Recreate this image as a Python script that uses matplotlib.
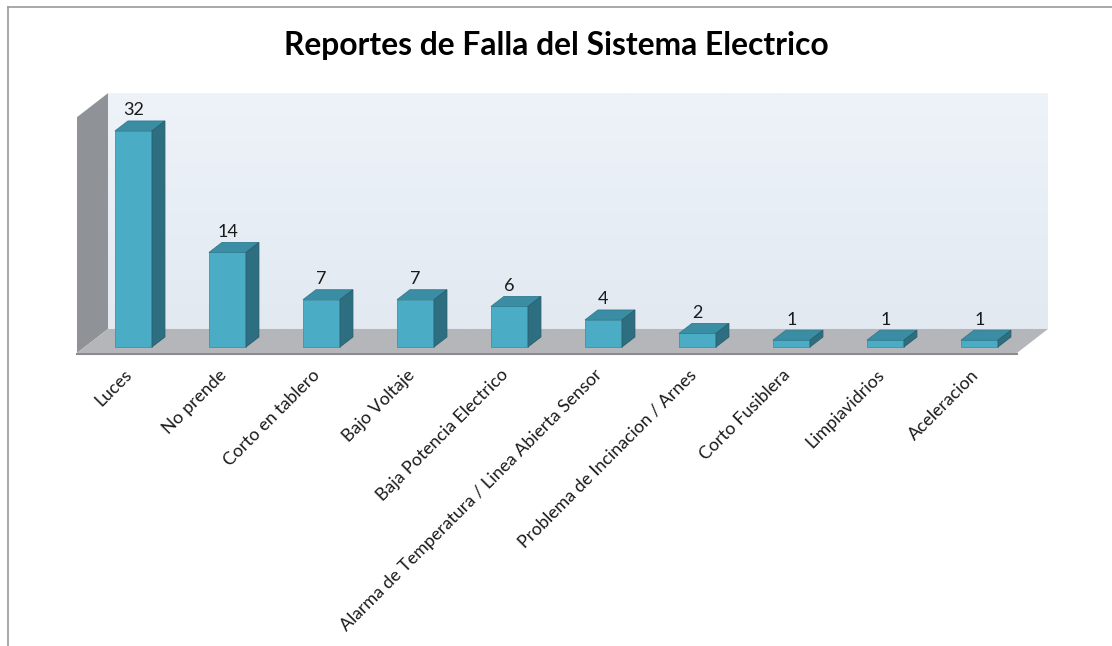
import matplotlib.pyplot as plt
import numpy as np
from matplotlib.patches import Polygon
from matplotlib.lines import Line2D

# data
categorias = ["Luces", "No prende", "Corto en tablero", "Bajo Voltaje",
              "Baja Potencia Electrico", "Alarma de Temperatura / Linea Abierta Sensor",
              "Problema de Incinacion / Arnes", "Corto Fusiblera", "Limpiavidrios",
              "Aceleracion"]
reportes = [32, 14, 7, 7, 6, 4, 2, 1, 1, 1]
titulo = "Reportes de Falla del Sistema Electrico"

plt.rcParams['font.family'] = ['Lato', 'DejaVu Sans']

fig = plt.figure(figsize=(11.12, 6.46), dpi=100)
ax = fig.add_axes([0, 0, 1, 1])
# 94 px per category, 6.75 px per report
ax.set_xlim(-1.420, 10.410)
ax.set_ylim(-44.3, 51.4)
ax.axis('off')

# "3d" box: depth vector of the walls and of the bars
wdx, wdy = 0.330, 3.556
bdx, bdy = 0.138, 1.48
x0, x1 = -0.601, 9.399
yf = -0.89
ytop = 37.6

# back wall with soft gradient
grad = np.linspace(0, 1, 100).reshape(-1, 1)
im = ax.imshow(grad, extent=(x0 + wdx, x1 + wdx, yf + wdy, ytop), origin='lower',
               cmap=plt.matplotlib.colors.LinearSegmentedColormap.from_list('w', ['#e2e9f1', '#eef3f9']),
               aspect='auto', zorder=1)
back = Polygon([(x0 + wdx, yf + wdy), (x1 + wdx, yf + wdy), (x1 + wdx, ytop), (x0 + wdx, ytop)],
               closed=True, fc='none', ec='none')
ax.add_patch(back)
im.set_clip_path(back)

# left wall
ax.add_patch(Polygon([(x0, yf), (x0 + wdx, yf + wdy), (x0 + wdx, ytop), (x0, ytop - wdy)],
                     closed=True, fc='#8f9397', ec='none', zorder=2))
# floor
ax.add_patch(Polygon([(x0, yf), (x1, yf), (x1 + wdx, yf + wdy), (x0 + wdx, yf + wdy)],
                     closed=True, fc='#b4b6b9', ec='none', zorder=2))
ax.plot([x0, x1], [yf - 0.15, yf - 0.15], color='#8a8c8f', lw=1.5, zorder=2)

# bars
x = np.arange(len(reportes))
w = 37 / 94
ax.bar(x, reportes, width=w, color='#4bacc6', edgecolor='#3d93aa', lw=0.6, zorder=3)
for xi, v in zip(x, reportes):
    l, r = xi - w / 2, xi + w / 2
    ax.add_patch(Polygon([(l, v), (r, v), (r + bdx, v + bdy), (l + bdx, v + bdy)],
                         closed=True, fc='#3b8da4', ec='#327d92', lw=0.6, zorder=3))
    ax.add_patch(Polygon([(r, 0), (r + bdx, bdy), (r + bdx, v + bdy), (r, v)],
                         closed=True, fc='#2d6e80', ec='#285f6f', lw=0.6, zorder=3))
    ax.text(xi, v + bdy + 0.4, str(v), ha='center', va='bottom', fontsize=13,
            color='#1a1a1a', zorder=4)

# category labels
for xi, c in zip(x, categorias):
    ax.text(xi - 0.1, -2.9, c, rotation=45, ha='right', va='top',
            rotation_mode='anchor', fontsize=12.8, color='#1a1a1a')

fig.text(0.5, 1 - 46 / 646, titulo, ha='center', va='center', fontsize=22.9,
         fontweight='bold', color='black')

# frame lines of the chart object (top and left)
fig.add_artist(Line2D([8 / 1112, 1], [1 - 7 / 646, 1 - 7 / 646], transform=fig.transFigure,
                      color='#9a9a9a', lw=1.2))
fig.add_artist(Line2D([8 / 1112, 8 / 1112], [0, 1 - 7 / 646], transform=fig.transFigure,
                      color='#9a9a9a', lw=1.2))

fig.savefig('out.png', dpi=100, facecolor='white')
